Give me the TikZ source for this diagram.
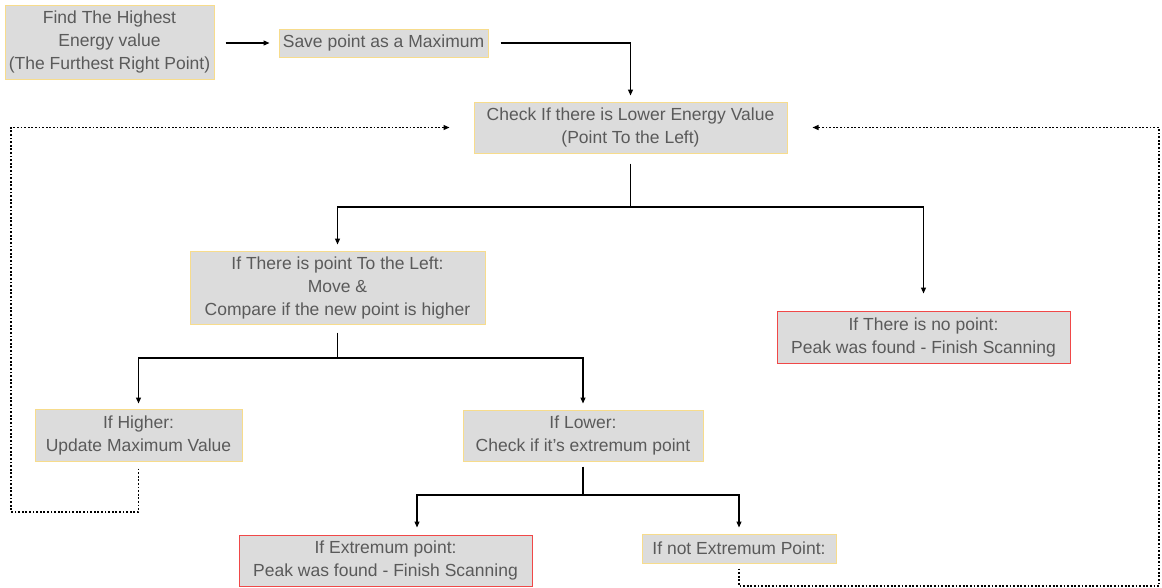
\documentclass[tikz,border=0pt]{standalone}
\usepackage{fontspec}
\setmainfont{Liberation Sans}
\usetikzlibrary{arrows.meta}
\definecolor{boxfill}{HTML}{DCDCDC}
\definecolor{boxyellow}{HTML}{F7DC8C}
\definecolor{boxred}{HTML}{F04848}
\definecolor{txtgray}{HTML}{5A5A5A}
\begin{document}
\begin{tikzpicture}[x=1pt,y=-1pt,
  box/.style={draw=boxyellow, fill=boxfill, text=txtgray, line width=1pt,
    font=\fontsize{17.5}{23}\selectfont, align=center, inner sep=0pt},
  redbox/.style={box, draw=boxred},
  link/.style={draw=black, line width=1.2pt},
  arr/.style={link, -{Triangle[length=6pt,width=5pt]}},
  dotarr/.style={draw=black, line width=1.2pt, dash pattern=on 1.8pt off 1.8pt,
    -{Triangle[length=6pt,width=5pt]}}]
\useasboundingbox (0,0) rectangle (1162,587);

\node[box, minimum width=209pt, minimum height=74pt] (find) at (109.5,42)
  {Find The Highest\\Energy value\\(The Furthest Right Point)};
\node[box, minimum width=209pt, minimum height=28pt] (save) at (383.5,43)
  {Save point as a Maximum};
\node[box, minimum width=313pt, minimum height=51pt] (check) at (630.5,127.5)
  {Check If there is Lower Energy Value\\(Point To the Left)};
\node[box, minimum width=295pt, minimum height=73pt] (point) at (337.5,287.5)
  {If There is point To the Left:\\Move \&\\Compare if the new point is higher};
\node[redbox, minimum width=293pt, minimum height=52pt] (nopoint) at (923.5,337)
  {If There is no point:\\Peak was found - Finish Scanning};
\node[box, minimum width=207pt, minimum height=52pt] (higher) at (138.5,435)
  {If Higher:\\Update Maximum Value};
\node[box, minimum width=240pt, minimum height=51pt] (lower) at (583,435.5)
  {If Lower:\\Check if it’s extremum point};
\node[redbox, minimum width=293pt, minimum height=51pt] (extremum) at (385.5,560.5)
  {If Extremum point:\\Peak was found - Finish Scanning};
\node[box, minimum width=194pt, minimum height=29pt] (notext) at (739,548.5)
  {If not Extremum Point:};

\coordinate (j1) at (630.5,207);
\coordinate (j2) at (337.5,358);
\coordinate (j3) at (583,495);
\coordinate (lb) at (11,512);
\coordinate (rb) at (1159,586);

\draw[arr, shorten <=11pt, shorten >=9pt] (find.east |- save.west) -- (save.west);
\draw[arr, shorten <=12pt, shorten >=6pt] (save.east) -| (check.north);
\draw[link, shorten <=10pt] (check.south) -- (j1);
\draw[arr, shorten >=6pt] (j1) -| (point.north);
\draw[arr, shorten >=17pt] (j1) -| (nopoint.north);
\draw[link, shorten <=8pt] (point.south) -- (j2);
\draw[arr, shorten >=5pt] (j2) -| (higher.north);
\draw[arr, shorten >=6pt] (j2) -| (lower.north);
\draw[link, shorten <=5pt] (lower.south) -- (j3);
\draw[arr, shorten >=7pt] (j3) -| ([xshift=31.5pt]extremum.north);
\draw[arr, shorten >=6pt] (j3) -| (notext.north);

\draw[dotarr, shorten <=7pt, shorten >=24pt] (higher.south) |- (lb) |- (check.west);
\draw[dotarr, shorten <=5pt, shorten >=25pt] (notext.south) |- (rb) |- (check.east);
\end{tikzpicture}
\end{document}
